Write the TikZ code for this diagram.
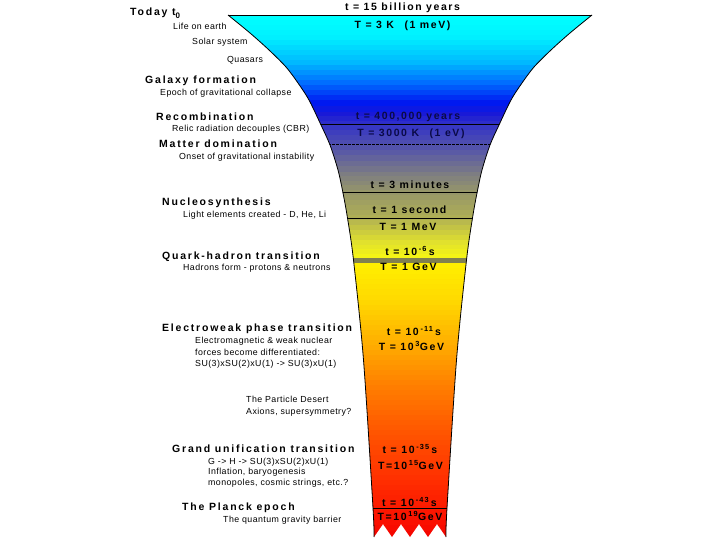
\documentclass[tikz,border=0pt]{standalone}
\usepackage{fontspec}
\setmainfont{Liberation Sans}
\newfontfamily\bigf[LetterSpace=15]{Liberation Sans}
\newfontfamily\lblf[LetterSpace=17]{Liberation Sans}
\newfontfamily\smf[LetterSpace=5]{Liberation Sans}
\definecolor{c1}{RGB}{0,255,255}
\definecolor{c2}{RGB}{0,240,255}
\definecolor{c3}{RGB}{0,185,255}
\definecolor{c4}{RGB}{0,110,255}
\definecolor{c5}{RGB}{0,25,240}
\definecolor{c6}{RGB}{25,25,215}
\definecolor{c7}{RGB}{55,55,195}
\definecolor{c8}{RGB}{90,90,165}
\definecolor{c9}{RGB}{125,125,130}
\definecolor{c10}{RGB}{150,150,105}
\definecolor{c11}{RGB}{175,175,85}
\definecolor{c12}{RGB}{225,225,45}
\definecolor{c13}{RGB}{250,250,15}
\definecolor{c14}{RGB}{255,238,0}
\definecolor{c15}{RGB}{255,215,0}
\definecolor{c16}{RGB}{255,175,0}
\definecolor{c17}{RGB}{255,130,0}
\definecolor{c18}{RGB}{255,85,0}
\definecolor{c19}{RGB}{255,45,0}
\definecolor{c20}{RGB}{250,15,0}
\definecolor{c21}{RGB}{240,0,0}
\definecolor{bandc}{RGB}{128,128,80}
\definecolor{navy}{RGB}{10,10,70}
\tikzset{
  lbl/.style={anchor=base west, inner sep=0pt, font=\lblf\bfseries\fontsize{10.5}{12}\selectfont},
  sub/.style={anchor=base west, inner sep=0pt, font=\smf\fontsize{8.8}{10}\selectfont},
  val/.style={anchor=base, inner sep=0pt, font=\bigf\bfseries\fontsize{10.5}{12}\selectfont},
  edge/.style={line width=0.8pt, black},
  sep/.style={line width=0.7pt, black}
}
\begin{document}
\begin{tikzpicture}[x=1pt,y=-1pt]
\useasboundingbox (0,0) rectangle (720,540);
\fill[white] (0,0) rectangle (720,540);
% funnel fill
\begin{scope}
\clip plot[smooth,tension=0.5] coordinates {(228,15) (250,33) (269,50) (286,67) (298,83) (309,100) (321,125) (330,145) (338,170) (343,193) (347.5,218) (353.5,260) (363.5,360) (373,508) (374,537)}
  -- (383,524) -- (392,537) -- (401,524) -- (410,537) -- (419,524) -- (428,537) -- (437,524)
  -- plot[smooth,tension=0.5] coordinates {(446,537) (447,508) (456.5,360) (466.5,260) (472.5,218) (477,193) (482,170) (490,145) (499,125) (511,100) (522,83) (534,67) (551,50) (570,33) (592,15)} -- cycle;
\foreach \ya/\yb/\ca/\cb in {15/35/c1/c2, 35/60/c2/c3, 60/80/c3/c4, 80/100/c4/c5, 100/112/c5/c6, 112/125/c6/c7, 125/150/c7/c8, 150/172/c8/c9, 172/190/c9/c10, 190/215/c10/c11, 215/240/c11/c12, 240/258/c12/c13, 258/263/c13/c14, 263/300/c14/c15, 300/340/c15/c16, 340/380/c16/c17, 380/430/c17/c18, 430/480/c18/c19, 480/520/c19/c20, 520/541/c20/c21}{
  \pgfmathtruncatemacro\n{max(1,round((\yb-\ya)/5))}
  \pgfmathsetmacro\h{(\yb-\ya)/\n}
  \pgfmathtruncatemacro\nm{\n-1}
  \foreach \k in {0,...,\nm}{
    \pgfmathtruncatemacro\p{100*\k/\n}
    \fill[\cb!\p!\ca] (200,{\ya+\k*\h}) rectangle (620,{\ya+(\k+1)*\h+0.4});
  }
}
\draw[sep] (200,124.5) -- (620,124.5);
\draw[sep, dash pattern=on 2.5pt off 1.5pt] (200,144.3) -- (620,144.3);
\draw[sep] (200,192.7) -- (620,192.7);
\draw[sep] (200,218.3) -- (620,218.3);
\fill[bandc] (200,257.7) rectangle (620,262.7);
\draw[sep] (200,508.3) -- (620,508.3);
\end{scope}
% outline
\draw[edge] plot[smooth,tension=0.5] coordinates {(228,15) (250,33) (269,50) (286,67) (298,83) (309,100) (321,125) (330,145) (338,170) (343,193) (347.5,218) (353.5,260) (363.5,360) (373,508) (374,537)};
\draw[edge] plot[smooth,tension=0.5] coordinates {(446,537) (447,508) (456.5,360) (466.5,260) (472.5,218) (477,193) (482,170) (490,145) (499,125) (511,100) (522,83) (534,67) (551,50) (570,33) (592,15)};
\coordinate (topL) at (228,15);
\coordinate (topR) at (592,15);
\draw[edge] (topL) -- (topR);
% left labels
\node[lbl] (today) at (130,16) {Today t\raisebox{-2.5pt}{\fontsize{8}{8}\selectfont 0}};
\node[sub] (life) at (173,29.5) {Life on earth};
\node[sub] (solar) at (192,45) {Solar system};
\node[sub] (quasars) at (227,63) {Quasars};
\node[lbl] (galaxy) at (145,84) {Galaxy formation};
\node[sub] (epoch) at (160,96) {Epoch of gravitational collapse};
\node[lbl] (recomb) at (156,121) {Recombination};
\node[sub] (relic) at (172,132) {Relic radiation decouples (CBR)};
\node[lbl] (matter) at (159,148) {Matter domination};
\node[sub] (onset) at (179,160) {Onset of gravitational instability};
\node[lbl] (nucleo) at (162,206) {Nucleosynthesis};
\node[sub] (light) at (183,217.3) {Light elements created - D, He, Li};
\node[lbl] (quark) at (162,259.5) {Quark-hadron transition};
\node[sub] (hadrons) at (183,270) {Hadrons form - protons \& neutrons};
\node[lbl] (ew) at (162,331) {Electroweak phase transition};
\node[sub] (ew1) at (195,343.3) {Electromagnetic \& weak nuclear};
\node[sub] (ew2) at (195,355) {forces become differentiated:};
\node[sub] (ew3) at (195,366) {SU(3)xSU(2)xU(1) -> SU(3)xU(1)};
\node[sub] (desert1) at (246,402.7) {The Particle Desert};
\node[sub] (desert2) at (246,414) {Axions, supersymmetry?};
\node[lbl] (gut) at (172,452) {Grand unification transition};
\node[sub] (gut1) at (208,464) {G -> H -> SU(3)xSU(2)xU(1)};
\node[sub] (gut2) at (208,474.7) {Inflation, baryogenesis};
\node[sub] (gut3) at (208,485) {monopoles, cosmic strings, etc.?};
\node[lbl] (planck) at (182,510) {The Planck epoch};
\node[sub] (planck1) at (223,522) {The quantum gravity barrier};
% funnel values
\node[val] (v1) at (402.5,10.7) {t = 15 billion years};
\node[val] (v2) at (402.5,28.3) {T = 3 K\hspace{1em}(1 meV)};
\node[val, text=navy] (v3) at (408,119.3) {t = 400,000 years};
\node[val, text=navy] (v4) at (411,136.7) {T = 3000 K\hspace{1em}(1 eV)};
\node[val] (v5) at (410,188.3) {t = 3 minutes};
\node[val] (v6) at (409.5,214) {t = 1 second};
\node[val] (v7) at (408,230.7) {T = 1 MeV};
\node[val] (v8) at (410,255) {t = 10\,\textsuperscript{-6}\,s};
\node[val] (v9) at (408.5,270.7) {T = 1 GeV};
\node[val] (v10) at (414,335) {t = 10\,\textsuperscript{-11}\,s};
\node[val] (v11) at (411.5,350) {T = 10\,\textsuperscript{3}GeV};
\node[val] (v12) at (410,453.3) {t = 10\,\textsuperscript{-35}\,s};
\node[val] (v13) at (410.5,469) {T=10\,\textsuperscript{15}GeV};
\node[val] (v14) at (409.5,506.7) {t = 10\,\textsuperscript{-43}\,s};
\node[val] (v15) at (410,520) {T=10\,\textsuperscript{19}GeV};
\end{tikzpicture}
\end{document}
